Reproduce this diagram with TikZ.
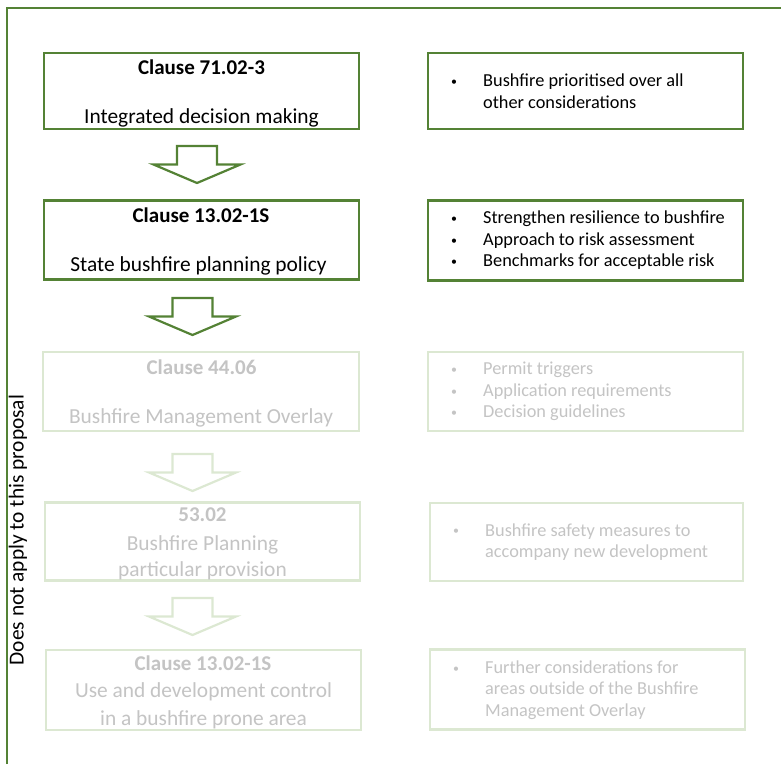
\documentclass[tikz,border=0pt]{standalone}
\usepackage{fontspec}
\setmainfont{Carlito}
\definecolor{dkgreen}{HTML}{548235}
\definecolor{ltgreen}{HTML}{DCE8D2}
\definecolor{fadetext}{HTML}{C4C4C4}
\begin{document}
\begin{tikzpicture}[x=1pt,y=-1pt,
  boxbase/.style={draw=dkgreen, line width=2.2pt, inner sep=0pt, fill=white},
  faded/.style={draw=ltgreen},
  ltxt/.style={anchor=base, inner sep=0pt, font=\fontsize{21.4}{26}\selectfont},
  ltxtb/.style={anchor=base, inner sep=0pt, font=\fontsize{21}{26}\selectfont\bfseries},
  rtxt/.style={anchor=west, inner sep=0pt, align=left, font=\fontsize{18.3}{21.5}\selectfont},
  fadetxt/.style={text=fadetext},
  barrow/.pic={\draw[line width=2.2pt, line join=miter, pic actions] (-20,0) -- (20,0) -- (20,18.5) -- (43.5,18.5) -- (0,37) -- (-43.5,18.5) -- (-20,18.5) -- cycle;}
]
\useasboundingbox (0,0) rectangle (781,764);
\newcommand{\bul}{\makebox[33pt][l]{\hspace{1pt}\raisebox{1.2pt}{\scalebox{0.65}{\textbullet}}}}
\newcommand{\ind}{\hspace*{33pt}}
% frame
\draw[dkgreen, line width=2.5pt] (7,764) -- (7,8.2) -- (781,8.2);
\node[rotate=90, inner sep=0pt, font=\fontsize{21.4}{26}\selectfont] (note) at (18,530) {Does not apply to this proposal};
% left column boxes
\node[boxbase, minimum width=315pt, minimum height=76pt] (b1) at (201.5,91) {};
\node[boxbase, minimum width=315pt, minimum height=79pt] (b2) at (201.5,240) {};
\node[boxbase, faded, minimum width=316pt, minimum height=79pt] (b3) at (201,391.5) {};
\node[boxbase, faded, minimum width=315pt, minimum height=78pt] (b4) at (202.5,541.5) {};
\node[boxbase, faded, minimum width=315pt, minimum height=80pt] (b5) at (203.5,690) {};
% left column texts
\node[ltxtb] (b1a) at (201.5,74) {Clause 71.02-3};
\node[ltxt] (b1b) at (201.5,123) {Integrated decision making};
\node[ltxtb] (b2a) at (201,222) {Clause 13.02-1S};
\node[ltxt] (b2b) at (198.5,271.7) {State bushfire planning policy};
\node[ltxtb, fadetxt] (b3a) at (201.5,374.3) {Clause 44.06};
\node[ltxt, fadetxt] (b3b) at (201,423) {Bushfire Management Overlay};
\node[ltxtb, fadetxt] (b4a) at (202.5,521.7) {53.02};
\node[ltxt, fadetxt] (b4b) at (202.5,550.7) {Bushfire Planning};
\node[ltxt, fadetxt] (b4c) at (202.5,576) {particular provision};
\node[ltxtb, fadetxt] (b5a) at (203,670) {Clause 13.02-1S};
\node[ltxt, fadetxt] (b5b) at (203.5,697.3) {Use and development control};
\node[ltxt, fadetxt] (b5c) at (203.5,725) {in a bushfire prone area};
% arrows
\pic[draw=dkgreen] at (197,146) {barrow};
\pic[draw=dkgreen] at (192.5,298) {barrow};
\pic[draw=ltgreen] at (192.5,454) {barrow};
\pic[draw=ltgreen] at (192.5,598) {barrow};
% right column boxes
\node[boxbase, minimum width=315pt, minimum height=76pt] (r1) at (585.5,91) {};
\node[boxbase, minimum width=315pt, minimum height=80pt] (r2) at (585.5,240.5) {};
\node[boxbase, faded, minimum width=315pt, minimum height=79pt] (r3) at (585.5,391.5) {};
\node[boxbase, faded, minimum width=313pt, minimum height=78pt] (r4) at (586.5,542) {};
\node[boxbase, faded, minimum width=315pt, minimum height=80pt] (r5) at (587.5,689.5) {};
% right column texts
\node[rtxt] (r1t) at (450,91) {\bul Bushfire prioritised over all\\\ind other considerations};
\node[rtxt] (r2t) at (450,240.5) {\bul Strengthen resilience to bushfire\\\bul Approach to risk assessment\\\bul Benchmarks for acceptable risk};
\node[rtxt, fadetxt] (r3t) at (450,391.5) {\bul Permit triggers\\\bul Application requirements\\\bul Decision guidelines};
\node[rtxt, fadetxt] (r4t) at (452,542) {\bul Bushfire safety measures to\\\ind accompany new development};
\node[rtxt, fadetxt] (r5t) at (452,690) {\bul Further considerations for\\\ind areas outside of the Bushfire\\\ind Management Overlay};
\end{tikzpicture}
\end{document}
